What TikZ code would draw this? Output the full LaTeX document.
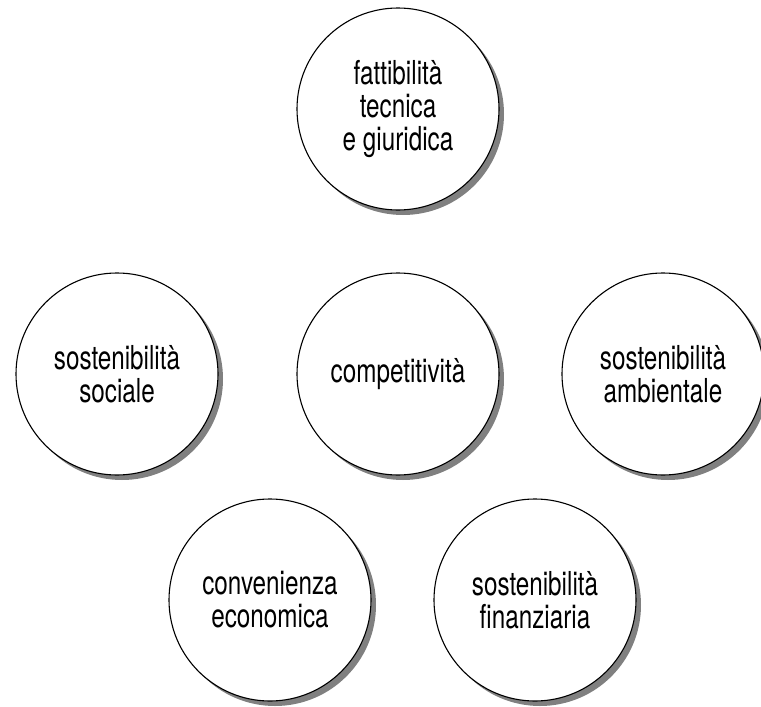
\documentclass[tikz,border=0pt]{standalone}
\usepackage{fontspec}
\setmainfont{TeX Gyre Heros}[FakeStretch=0.735]
\usetikzlibrary{shadows}
\tikzset{
  bubble/.style={circle, draw, line width=1.1pt, fill=white, minimum size=202pt, inner sep=0pt,
    align=center, font=\fontsize{33pt}{33pt}\selectfont,
    drop shadow={shadow xshift=5pt, shadow yshift=-5pt, fill=black!50, opacity=1}}
}
\begin{document}
\begin{tikzpicture}[x=1pt, y=-1pt]
  \useasboundingbox (0,0) rectangle (761,707);

  \node[bubble] (tecnica) at (398,109) {fattibilità\\tecnica\\e giuridica};
  \node[bubble] (sociale) at (117,374) {sostenibilità\\sociale};
  \node[bubble] (compet) at (398,374) {competitività};
  \node[bubble] (ambiente) at (663,374) {sostenibilità\\ambientale};
  \node[bubble] (economia) at (270,600) {convenienza\\economica};
  \node[bubble] (finanza) at (535,600) {sostenibilità\\finanziaria};
\end{tikzpicture}
\end{document}
